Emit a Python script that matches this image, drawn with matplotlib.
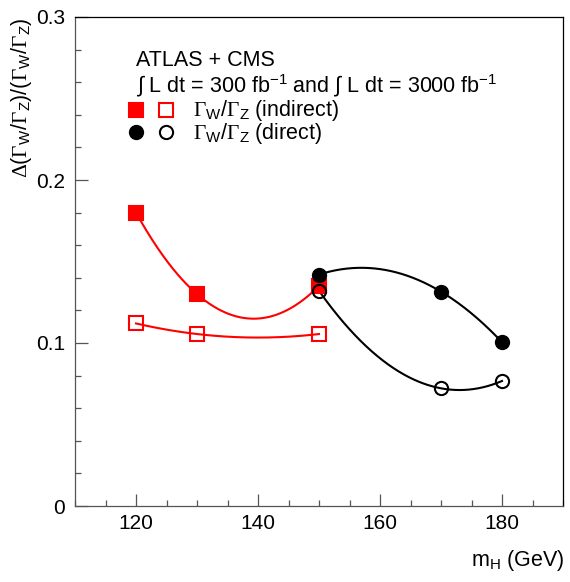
import numpy as np
import matplotlib
matplotlib.use('Agg')
import matplotlib.pyplot as plt
from matplotlib.ticker import MultipleLocator

# Data
mh_indirect = [120, 130, 150]
indirect_300 = [0.180, 0.130, 0.135]    # filled squares
indirect_3000 = [0.112, 0.1055, 0.1055]  # open squares
mh_direct = [150, 170, 180]
direct_300 = [0.142, 0.1315, 0.1005]     # filled circles
direct_3000 = [0.132, 0.0722, 0.0767]    # open circles

y_ticks = [0, 0.1, 0.2, 0.3]
y_ticklabels = ['0', '0.1', '0.2', '0.3']
x_ticks = [120, 140, 160, 180]

plt.rcParams['font.family'] = ['Liberation Sans', 'DejaVu Sans']
plt.rcParams['mathtext.fontset'] = 'custom'
plt.rcParams['mathtext.rm'] = 'Liberation Serif'
plt.rcParams['mathtext.sf'] = 'Liberation Sans'
plt.rcParams['mathtext.it'] = 'Liberation Sans:italic'

FS = 15.5
fig = plt.figure(figsize=(5.7, 5.82), dpi=100)
ax = fig.add_axes([75 / 570, 1 - 506 / 582, 488 / 570, 489 / 582])

RED = '#ff0000'


def smooth(ax, x, y, color):
    """Smooth curve through the three points, like ROOT's 'C' option."""
    coef = np.polyfit(x, y, 2)
    xs = np.linspace(min(x), max(x), 200)
    ax.plot(xs, np.polyval(coef, xs), color=color, lw=1.5, zorder=2)


series = [
    (mh_indirect, indirect_300, RED, 's', True),
    (mh_indirect, indirect_3000, RED, 's', False),
    (mh_direct, direct_300, 'black', 'o', True),
    (mh_direct, direct_3000, 'black', 'o', False),
]
for x, y, c, m, filled in series:
    smooth(ax, x, y, c)
for x, y, c, m, filled in series:
    ms = 10 if m == 's' else 9.5
    ax.plot(x, y, ls='none', marker=m, ms=ms, mec=c, mew=1.5,
            mfc=c if filled else 'none', zorder=3)

ax.set_xlim(110, 190)
ax.set_ylim(0, 0.3)
ax.set_xticks(x_ticks)
ax.set_yticks(y_ticks, labels=y_ticklabels)
ax.xaxis.set_minor_locator(MultipleLocator(5))
ax.yaxis.set_minor_locator(MultipleLocator(0.02))
ax.tick_params(which='both', direction='in', top=False, right=False,
               labelsize=15, color='#555555')
ax.tick_params(which='major', length=9, width=0.9)
ax.tick_params(which='minor', length=4.5, width=0.9)
ax.tick_params(axis='x', pad=6)
ax.tick_params(axis='y', pad=7)
for s in ax.spines.values():
    s.set_linewidth(0.9)
ax.spines['left'].set_color('#555555')
ax.spines['bottom'].set_color('#555555')

gw = r'$\Gamma_{\mathsf{W}}$/$\Gamma_{\mathsf{Z}}$'
fig.text(22 / 570, 1 - 17 / 582, r'$\Delta$(' + gw + ')/(' + gw + ')',
         rotation=90, ha='center', va='top', fontsize=FS)
fig.text(564 / 570, 1 - 566 / 582, r'm$_{\mathsf{H}}$ (GeV)',
         ha='right', va='baseline', fontsize=FS)

# legend block
ax.text(0.125, 0.899, 'ATLAS + CMS', transform=ax.transAxes,
        va='baseline', fontsize=FS)
ax.text(0.125, 0.845,
        '∫ L dt = 300 fb$^{\\mathsf{-1}}$ and ∫ L dt = 3000 fb$^{\\mathsf{-1}}$',
        transform=ax.transAxes, va='baseline', fontsize=FS)
leg_rows = [(0.81, 's', RED, 10, 0.797, gw + ' (indirect)'),
            (0.765, 'o', 'black', 9.5, 0.750, gw + ' (direct)')]
for ym, m, c, ms, yt, label in leg_rows:
    ax.plot([0.125], [ym], marker=m, ms=ms, mec=c, mfc=c, mew=1.5,
            transform=ax.transAxes, clip_on=False)
    ax.plot([0.1865], [ym], marker=m, ms=ms, mec=c, mfc='none', mew=1.5,
            transform=ax.transAxes, clip_on=False)
    ax.text(0.242, yt, label, transform=ax.transAxes, va='baseline',
            fontsize=FS)

fig.savefig('out.png', dpi=100)
